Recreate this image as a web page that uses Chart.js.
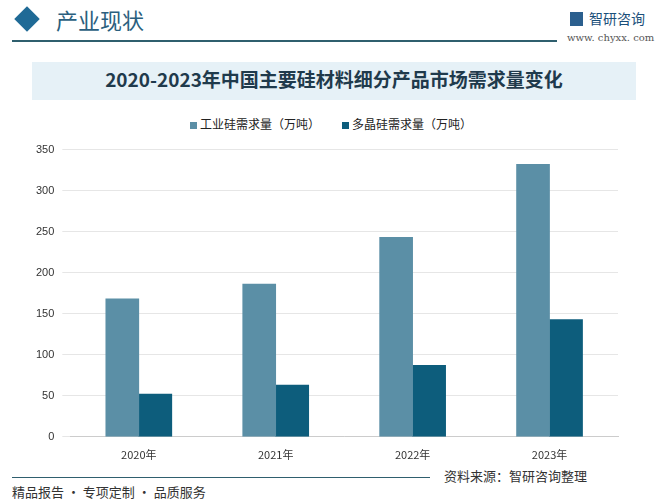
<!DOCTYPE html>
<html><head><meta charset="utf-8">
<script src="https://cdn.jsdelivr.net/npm/chart.js@4"></script>
<style>
body{margin:0;width:668px;height:502px;background:#fff;position:relative;overflow:hidden;font-family:"Noto Sans CJK SC",sans-serif;}
.abs{position:absolute;}
</style></head><body>
<div class="abs" style="left:18px;top:10px;width:18px;height:18px;background:#1f6a96;transform:rotate(45deg);"></div>
<div class="abs" style="left:56px;top:3px;font-size:22px;color:#2b5f7e;">产业现状</div>
<div class="abs" style="left:12px;top:40px;width:545px;height:2px;background:#2f5f6e;"></div>
<div class="abs" style="left:570px;top:8px;font-size:14px;color:#1a4f7a;"><span style="display:inline-block;width:13px;height:14px;background:#2b5f8e;vertical-align:-2px;margin-right:6px"></span>智研咨询</div>
<div class="abs" style="left:567px;top:32px;font-size:10px;color:#555;font-family:'DejaVu Serif',serif;">www. chyxx. com</div>
<div class="abs" style="left:32px;top:62px;width:604px;height:38px;background:#e6f1f7;"></div>
<div class="abs" style="left:32px;top:65px;width:604px;text-align:center;font-size:19px;font-weight:bold;color:#1f3a4c;">2020-2023年中国主要硅材料细分产品市场需求量变化</div>
<div class="abs" style="left:190px;top:115px;font-size:12px;color:#222;"><span style="display:inline-block;width:7px;height:7px;background:#5b8fa6;margin-right:3px"></span>工业硅需求量（万吨）<span style="display:inline-block;width:7px;height:7px;background:#0d5d7c;margin:0 3px 0 22px"></span>多晶硅需求量（万吨）</div>
<div class="abs" style="left:12px;top:477px;width:418px;height:1px;background:#2f5f6e;"></div>
<div class="abs" style="left:12px;top:482px;font-size:13px;color:#333;">精品报告 · 专项定制 · 品质服务</div>
<div class="abs" style="left:444px;top:466px;font-size:13px;color:#333;">资料来源：智研咨询整理</div>
<div class="abs" style="left:0;top:135px;width:638px;height:329px;"><canvas id="c"></canvas></div>
<script>
const categories=["2020年","2021年","2022年","2023年"];
const industrialSi=[168,186,243,332];
const polySi=[52,63,87,143];
const yTicks=[0,50,100,150,200,250,300,350];
new Chart(document.getElementById('c'),{
type:'bar',
data:{labels:categories,datasets:[
{label:'工业硅需求量（万吨）',data:industrialSi,backgroundColor:'#5b8fa6',barThickness:33},
{label:'多晶硅需求量（万吨）',data:polySi,backgroundColor:'#0d5d7c',barThickness:33}]},
options:{responsive:true,maintainAspectRatio:false,animation:false,
layout:{padding:{top:3,left:28,right:20,bottom:0}},
plugins:{legend:{display:false},tooltip:{enabled:false}},
scales:{
x:{grid:{display:false},border:{color:'#ccc'},ticks:{color:'#333',font:{size:11,family:'Noto Sans CJK SC'}}},
y:{min:0,max:350,afterBuildTicks:a=>{a.ticks=yTicks.map(v=>({value:v}));},grid:{color:'#e6e6e6'},border:{display:false},ticks:{color:'#333',padding:8,font:{size:11}}}
}}});
</script>
</body></html>
